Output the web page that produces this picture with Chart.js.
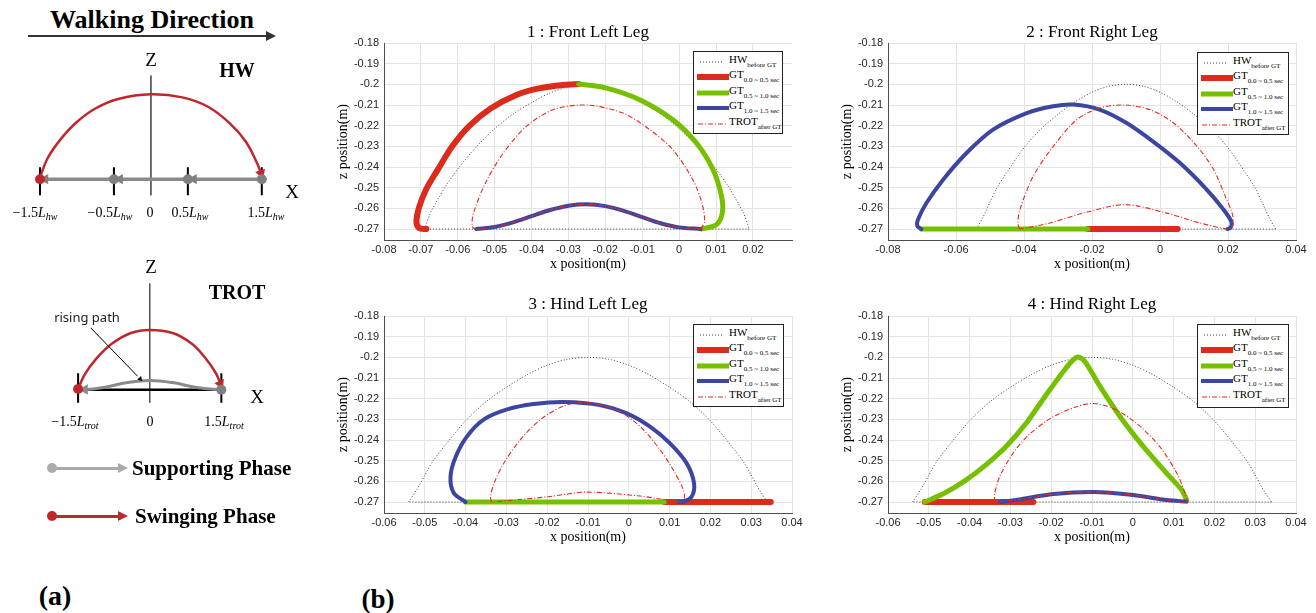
<!DOCTYPE html>
<html>
<head>
<meta charset="utf-8">
<script src="https://cdn.jsdelivr.net/npm/chart.js@4.4.1/dist/chart.umd.min.js"></script>
<style>
  body { margin: 0; width: 1316px; height: 613px; background: #fff; position: relative; overflow: hidden; font-family: 'Liberation Serif', serif; }
  canvas { position: absolute; }
  .t { position: absolute; white-space: nowrap; color: #000; transform: translate(-50%, -50%); }
  .tl { position: absolute; white-space: nowrap; color: #000; transform: translateY(-50%); }
  .b { font-weight: bold; }
  .math { font-size: 14px; }
  .math sub { font-size: 10px; font-style: italic; vertical-align: -3px; line-height: 0; }
  .ptitle { position: absolute; width: 408px; text-align: center; font-size: 17px; line-height: 20px; }
  .legend { position: absolute; border: 1px solid #222; background: #fff; }
  .legend .row { position: absolute; left: 0; width: 100%; height: 0; }
  .legend svg { position: absolute; left: 3px; top: -4px; }
  .legend .txt { position: absolute; left: 35px; top: -10px; font-size: 11px; line-height: 14px; white-space: nowrap; color: #000; }
  .legend sub { font-size: 7px; vertical-align: -4px; line-height: 0; color: #000; }
  .css-line { position: absolute; }
  .tri { position: absolute; width: 0; height: 0; border-top: 5px solid transparent; border-bottom: 5px solid transparent; }
  .dot { position: absolute; width: 10px; height: 10px; border-radius: 50%; }
</style>
</head>
<body>

<!-- (a) diagrams -->
<div class="t b" style="left:152px;top:20px;font-size:26px">Walking Direction</div>
<div class="css-line" style="left:28px;top:35px;width:240px;height:2px;background:#333"></div>
<div class="tri" style="left:266px;top:31px;border-left:10px solid #333"></div>

<canvas id="hwDiagram" width="310" height="180" style="left:0;top:40px"></canvas>
<div class="t" style="left:151px;top:60px;font-size:19px">Z</div>
<div class="t b" style="left:237px;top:70px;font-size:20px">HW</div>
<div class="t" style="left:292px;top:192px;font-size:19px">X</div>
<div class="t math" style="left:35px;top:213px">−1.5<i>L</i><sub>hw</sub></div>
<div class="t math" style="left:110px;top:213px">−0.5<i>L</i><sub>hw</sub></div>
<div class="t math" style="left:150px;top:213px">0</div>
<div class="t math" style="left:190px;top:213px">0.5<i>L</i><sub>hw</sub></div>
<div class="t math" style="left:266px;top:213px">1.5<i>L</i><sub>hw</sub></div>

<canvas id="trotDiagram" width="310" height="170" style="left:0;top:265px"></canvas>
<div class="t" style="left:151px;top:267px;font-size:19px">Z</div>
<div class="t b" style="left:237px;top:292px;font-size:20px">TROT</div>
<div class="t" style="left:257px;top:397px;font-size:19px">X</div>
<div class="t" style="left:87px;top:317px;font-size:13px;font-family:'Noto Sans',sans-serif;color:#222">rising path</div>
<div class="t math" style="left:75px;top:422px">−1.5<i>L</i><sub>trot</sub></div>
<div class="t math" style="left:150px;top:422px">0</div>
<div class="t math" style="left:224px;top:422px">1.5<i>L</i><sub>trot</sub></div>

<div class="dot" style="left:47px;top:463px;background:#aaa"></div>
<div class="css-line" style="left:52px;top:466.5px;width:68px;height:3px;background:#aaa"></div>
<div class="tri" style="left:118px;top:463px;border-left:10px solid #aaa"></div>
<div class="tl b" style="left:132px;top:468px;font-size:21px">Supporting Phase</div>

<div class="dot" style="left:47px;top:511px;background:#c0272d"></div>
<div class="css-line" style="left:52px;top:514.5px;width:68px;height:3px;background:#c0272d"></div>
<div class="tri" style="left:118px;top:511px;border-left:10px solid #c0272d"></div>
<div class="tl b" style="left:135px;top:516px;font-size:21px">Swinging Phase</div>

<div class="t b" style="left:55px;top:596px;font-size:28px">(a)</div>
<div class="t b" style="left:378px;top:599px;font-size:27px">(b)</div>

<!-- (b) leg trajectories -->
<canvas id="leg1" width="470" height="258" style="left:330px;top:20px"></canvas>
<canvas id="leg2" width="510" height="258" style="left:800px;top:20px"></canvas>
<canvas id="leg3" width="480" height="261" style="left:330px;top:290px"></canvas>
<canvas id="leg4" width="510" height="261" style="left:800px;top:290px"></canvas>

<div class="ptitle" style="left:384px;top:22px">1 : Front Left Leg</div>
<div class="ptitle" style="left:888px;top:22px">2 : Front Right Leg</div>
<div class="ptitle" style="left:384px;top:294px">3 : Hind Left Leg</div>
<div class="ptitle" style="left:888px;top:294px">4 : Hind Right Leg</div>

<div id="lg1" class="legend" style="left:693px;top:51px;width:88px;height:81px"></div>
<div id="lg2" class="legend" style="left:1197px;top:52px;width:90px;height:81px"></div>
<div id="lg3" class="legend" style="left:693px;top:324px;width:89px;height:81px"></div>
<div id="lg4" class="legend" style="left:1197px;top:324px;width:90px;height:82px"></div>

<script>
// ---------- (a) schematic, x in step lengths, z in step heights ----------
const hwSwing = [[-1.5, 0.02], [-1.396, 0.249], [-1.222, 0.469], [-1.006, 0.67], [-0.746, 0.835], [-0.442, 0.945],
  [0, 1], [0.425, 0.963], [0.772, 0.853], [1.075, 0.652], [1.292, 0.432], [1.443, 0.176], [1.475, 0.1]];
const hwSupport = [[1.5, 0], [-1.5, 0]];
const hwFootholds = [-0.5, 0.5, 1.5];
const hwSupportArrows = [-1.43, -0.42, 0.58];
const hwTicks = [-1.5, -0.5, 0.5, 1.5];

const trotSwing = [[-1.5, 0.01], [-1.366, 0.249], [-1.131, 0.508], [-0.795, 0.767], [-0.393, 0.948], [0, 1],
  [0.48, 0.948], [0.883, 0.767], [1.185, 0.508], [1.386, 0.275], [1.455, 0.15]];
const trotRising = [[1.5, 0], [1.017, 0.031], [0.48, 0.119], [0, 0.155], [-0.46, 0.119], [-0.996, 0.031], [-1.3, 0.005]];
const trotGround = [[-1.5, 0], [1.5, 0]];
const trotTicks = [-1.5, 1.5];
const risingPointer = [[-1.23, 1.03], [-0.26, 0.23]];

// ---------- (b) foot trajectories, x / z position in metres ----------
const hwFrontLeft = [[-0.069, -0.27], [-0.0675, -0.2625], [-0.066, -0.2575], [-0.063, -0.2485], [-0.0595, -0.2398],
  [-0.055, -0.2303], [-0.05, -0.2215], [-0.045, -0.2143], [-0.04, -0.2088], [-0.035, -0.2042], [-0.03, -0.2012],
  [-0.025, -0.2], [-0.02, -0.2012], [-0.015, -0.2042], [-0.01, -0.2088], [-0.005, -0.2143], [0, -0.2215],
  [0.005, -0.2303], [0.0095, -0.2398], [0.013, -0.2485], [0.016, -0.2575], [0.0175, -0.2625], [0.019, -0.27]];
const hwFrontLeftBase = [[0.019, -0.27], [-0.069, -0.27]];
const hwOthers = [[-0.054, -0.27], [-0.052, -0.2641], [-0.0502, -0.2577], [-0.048, -0.2502], [-0.045, -0.2425],
  [-0.04, -0.2307], [-0.035, -0.2215], [-0.03, -0.2145], [-0.025, -0.2085], [-0.02, -0.2038], [-0.015, -0.2009],
  [-0.01, -0.2], [-0.005, -0.2009], [0, -0.2038], [0.005, -0.2085], [0.01, -0.2145], [0.015, -0.2215],
  [0.02, -0.2307], [0.025, -0.2425], [0.028, -0.2502], [0.0302, -0.2577], [0.032, -0.2641], [0.034, -0.27]];
const hwOthersBase = [[0.034, -0.27], [-0.054, -0.27]];

const flRed = [[-0.0685, -0.27], [-0.0705, -0.2695], [-0.0712, -0.2665], [-0.0705, -0.2595], [-0.0685, -0.2505],
  [-0.0655, -0.2415], [-0.0615, -0.23], [-0.057, -0.2203], [-0.0512, -0.2118], [-0.044, -0.205], [-0.0377, -0.2018],
  [-0.031, -0.2002], [-0.0272, -0.1998]];
const flGreen = [[-0.0272, -0.1998], [-0.0197, -0.2018], [-0.0107, -0.2074], [-0.0017, -0.2171], [0.0047, -0.2284],
  [0.0092, -0.2413], [0.0115, -0.2542], [0.0117, -0.2623], [0.0101, -0.2679], [0.006, -0.27]];
const flBlue = [[0.0058, -0.27], [0, -0.2692], [-0.005, -0.2672], [-0.01, -0.2642], [-0.015, -0.2612], [-0.02, -0.2589],
  [-0.025, -0.258], [-0.03, -0.2587], [-0.035, -0.2608], [-0.04, -0.2638], [-0.045, -0.2668], [-0.05, -0.269], [-0.055, -0.27]];
const flTrot = [[0.0058, -0.27], [0.0069, -0.2665], [0.0062, -0.2575], [0.0037, -0.2461], [-0.0017, -0.2316],
  [-0.008, -0.2219], [-0.0152, -0.2139], [-0.0252, -0.21], [-0.0342, -0.2123], [-0.0414, -0.2203], [-0.0476, -0.2331],
  [-0.0525, -0.2477], [-0.0557, -0.2621], [-0.0561, -0.2686], [-0.055, -0.27], [-0.05, -0.269], [-0.045, -0.2668],
  [-0.04, -0.2638], [-0.035, -0.2608], [-0.03, -0.2587], [-0.025, -0.258], [-0.02, -0.2589], [-0.015, -0.2612],
  [-0.01, -0.2642], [-0.005, -0.2672], [0, -0.2692], [0.0058, -0.27]];

const frRed = [[0.0052, -0.27], [-0.0212, -0.27]];
const frGreen = [[-0.0212, -0.27], [-0.0702, -0.27]];
const frBlue = [[-0.0702, -0.27], [-0.0714, -0.2685], [-0.0712, -0.2655], [-0.0687, -0.2574], [-0.0638, -0.2461],
  [-0.0569, -0.2332], [-0.0491, -0.2219], [-0.0392, -0.2139], [-0.0314, -0.2106], [-0.0255, -0.2098], [-0.0176, -0.2123],
  [-0.0098, -0.2187], [-0.002, -0.2277], [0.0059, -0.2381], [0.0138, -0.251], [0.0187, -0.2606], [0.021, -0.2665],
  [0.0207, -0.2695], [0.0198, -0.27]];
const frTrot = [[-0.0412, -0.27], [-0.0418, -0.2675], [-0.0412, -0.2606], [-0.0373, -0.2445], [-0.0314, -0.23],
  [-0.0245, -0.2171], [-0.0176, -0.2114], [-0.0103, -0.21], [-0.0029, -0.2123], [0.004, -0.2187], [0.0109, -0.23],
  [0.0158, -0.2413], [0.0192, -0.2542], [0.0212, -0.2623], [0.0215, -0.2675], [0.0205, -0.27], [0.0118, -0.2671],
  [0.002, -0.2623], [-0.0103, -0.2582], [-0.0226, -0.2623], [-0.0324, -0.2671], [-0.0412, -0.27]];

const hlRed = [[0.0348, -0.27], [0.0087, -0.27]];
const hlGreen = [[0.0087, -0.27], [-0.04, -0.27]];
const hlBlue = [[-0.04, -0.27], [-0.0429, -0.2656], [-0.0437, -0.2577], [-0.0424, -0.248], [-0.0396, -0.2381],
  [-0.0355, -0.23], [-0.0298, -0.2252], [-0.0233, -0.2226], [-0.0159, -0.2216], [-0.0071, -0.2231], [-0.0005, -0.2271],
  [0.0052, -0.2335], [0.0101, -0.2416], [0.0142, -0.2513], [0.016, -0.261], [0.0154, -0.2674], [0.0134, -0.2698], [0.0122, -0.27]];
const hlTrot = [[-0.0337, -0.27], [-0.0339, -0.2673], [-0.033, -0.2608], [-0.0306, -0.2511], [-0.0265, -0.2397],
  [-0.0216, -0.23], [-0.0159, -0.2235], [-0.0105, -0.2218], [-0.003, -0.2255], [0.0028, -0.2335], [0.0077, -0.2448],
  [0.0109, -0.2545], [0.0134, -0.2642], [0.0136, -0.2685], [0.013, -0.27], [0.0028, -0.2671], [-0.0105, -0.2652],
  [-0.0192, -0.2673], [-0.0273, -0.2689], [-0.0337, -0.27]];

const hrRed = [[-0.0244, -0.27], [-0.051, -0.27]];
const hrGreen = [[-0.051, -0.27], [-0.046, -0.2655], [-0.041, -0.2595], [-0.036, -0.252], [-0.031, -0.243],
  [-0.026, -0.2315], [-0.021, -0.2175], [-0.0165, -0.2055], [-0.0145, -0.201], [-0.0134, -0.1998], [-0.0117, -0.2021],
  [-0.008, -0.2142], [-0.0031, -0.2287], [0.0026, -0.2432], [0.0083, -0.2561], [0.012, -0.2642], [0.0132, -0.269]];
const hrBlue = [[0.0132, -0.2698], [0.0083, -0.269], [0.0001, -0.2666], [-0.0097, -0.2651], [-0.0195, -0.2661],
  [-0.0277, -0.2687], [-0.0326, -0.27]];
const hrTrot = [[-0.0339, -0.27], [-0.0338, -0.2655], [-0.0326, -0.2576], [-0.0294, -0.2465], [-0.0255, -0.2375],
  [-0.0195, -0.2287], [-0.0138, -0.2239], [-0.0097, -0.2223], [-0.0048, -0.2247], [0.0009, -0.2319], [0.0066, -0.2432],
  [0.0108, -0.2561], [0.0128, -0.2658], [0.0132, -0.27], [0.0083, -0.269], [0.0001, -0.2666], [-0.0097, -0.2651],
  [-0.0195, -0.2661], [-0.0277, -0.2687], [-0.0339, -0.27]];

const zTicks = [-0.27, -0.26, -0.25, -0.24, -0.23, -0.22, -0.21, -0.2, -0.19, -0.18];
const xTicksFL = [-0.08, -0.07, -0.06, -0.05, -0.04, -0.03, -0.02, -0.01, 0, 0.01, 0.02];
const xTicksFR = [-0.08, -0.06, -0.04, -0.02, 0, 0.02, 0.04];
const xTicksHind = [-0.06, -0.05, -0.04, -0.03, -0.02, -0.01, 0, 0.01, 0.02, 0.03, 0.04];

const legendNames = ['HW', 'GT', 'GT', 'GT', 'TROT'];
const legendSubs = ['before GT', '0.0 ~ 0.5 sec', '0.5 ~ 1.0 sec', '1.0 ~ 1.5 sec', 'after GT'];

const RED = '#dc2a1c', GREEN = '#76c000', BLUE = '#3c46a0', TROT_RED = '#e8291d';

const pts = arr => arr.map(p => ({ x: p[0], y: p[1] }));

// ---------- schematic charts ----------
function diagram(id, xMin, xMax, yMin, yMax, datasets) {
  new Chart(document.getElementById(id), {
    type: 'scatter',
    data: { datasets },
    options: {
      responsive: false,
      animation: false,
      layout: { padding: 0 },
      scales: {
        x: { display: false, min: xMin, max: xMax },
        y: { display: false, min: yMin, max: yMax }
      },
      plugins: { legend: { display: false }, tooltip: { enabled: false } }
    }
  });
}

function segs(xs, z0, z1) {
  const out = [];
  xs.forEach(x => { out.push({ x, y: z0 }, { x, y: z1 }, { x, y: null }); });
  return out;
}

function lineDs(data, color, width, extra) {
  return Object.assign({ data, showLine: true, borderColor: color, borderWidth: width, pointRadius: 0,
    tension: 0.4, spanGaps: false, borderCapStyle: 'round' }, extra || {});
}

function markDs(data, color, style, radius, rotation) {
  return { data, showLine: false, pointStyle: style, pointRadius: radius, pointRotation: rotation || 0,
    pointBackgroundColor: color, pointBorderColor: color, pointBorderWidth: 0 };
}

diagram('hwDiagram', -1.96, 2.071, -0.41, 1.568, [
  markDs([{ x: -1.5, y: 0 }], '#c0272d', 'circle', 5),
  markDs(hwFootholds.map(x => ({ x, y: 0 })), '#7f7f7f', 'circle', 5),
  markDs(hwSupportArrows.map(x => ({ x, y: 0 })), '#7f7f7f', 'triangle', 6, 270),
  markDs([{ x: 1.49, y: 0.07 }], '#c0272d', 'triangle', 6, 161),
  lineDs(pts(hwSwing), '#c0272d', 2.5),
  lineDs(pts(hwSupport), '#8a8a8a', 3.5, { tension: 0 }),
  lineDs(segs(hwTicks, 0.14, -0.19), '#000', 2, { tension: 0, borderCapStyle: 'butt' }),
  lineDs(segs([0], 1.22, -0.19), '#555', 1, { tension: 0, borderCapStyle: 'butt' })
]);

diagram('trotDiagram', -3.01, 3.231, -0.658, 1.986, [
  markDs([{ x: -1.5, y: 0.01 }], '#c0272d', 'circle', 5),
  markDs([{ x: 1.5, y: 0 }], '#7f7f7f', 'circle', 5),
  markDs([{ x: -1.36, y: 0.003 }], '#8a8a8a', 'triangle', 6, 270),
  markDs([{ x: 1.48, y: 0.1 }], '#c0272d', 'triangle', 6, 155),
  markDs([{ x: -0.2, y: 0.18 }], '#000', 'triangle', 3, 137),
  lineDs(pts(risingPointer), '#000', 1, { tension: 0 }),
  lineDs(pts(trotSwing), '#c0272d', 2.5),
  lineDs(pts(trotRising), '#8a8a8a', 3),
  lineDs(pts(trotGround), '#000', 2.5, { tension: 0, borderCapStyle: 'butt' }),
  lineDs(segs(trotTicks, 0.275, -0.218), '#000', 2, { tension: 0, borderCapStyle: 'butt' }),
  lineDs(segs([0], 1.777, -0.218), '#555', 1, { tension: 0, borderCapStyle: 'butt' })
]);

// ---------- leg trajectory charts ----------
function legChart(id, xMin, xMax, xTicks, padL, padR, padTop, s) {
  const thick = (data, color, w) => ({ data: pts(data), showLine: true, borderColor: color, backgroundColor: color,
    borderWidth: w, pointRadius: 0, tension: 0.3, borderCapStyle: 'round', borderJoinStyle: 'round' });
  const dotted = data => ({ data: pts(data), showLine: true, borderColor: '#404040', borderWidth: 1,
    borderDash: [1, 2], pointRadius: 0, tension: 0.3 });
  new Chart(document.getElementById(id), {
    type: 'scatter',
    data: {
      datasets: [
        { data: pts(s.trot), showLine: true, borderColor: TROT_RED, borderWidth: 1.1, borderDash: [5, 2, 1, 2],
          pointRadius: 0, tension: 0.3 },
        thick(s.blue, BLUE, 4),
        thick(s.green, GREEN, 5),
        thick(s.red, RED, 6),
        dotted(s.hw),
        dotted(s.hwBase)
      ]
    },
    options: {
      responsive: false,
      animation: false,
      layout: { padding: { left: padL, right: padR, top: padTop, bottom: 0 } },
      scales: {
        x: {
          type: 'linear', min: xMin, max: xMax,
          afterBuildTicks: sc => { sc.ticks = xTicks.map(v => ({ value: v })); },
          afterFit: sc => { sc.height = 38; },
          grid: { color: '#e4e4e4', drawTicks: false },
          border: { color: '#4d4d4d' },
          ticks: { font: { family: 'Liberation Sans', size: 11 }, color: '#262626', padding: 3, maxRotation: 0,
            autoSkip: false, format: { minimumFractionDigits: 0, maximumFractionDigits: 3 } },
          title: { display: true, text: 'x position(m)', font: { family: 'Liberation Serif', size: 14 }, color: '#000',
            padding: { top: 0, bottom: 5 } }
        },
        y: {
          type: 'linear', min: -0.2753, max: -0.18,
          afterBuildTicks: sc => { sc.ticks = zTicks.map(v => ({ value: v })); },
          afterFit: sc => { sc.width = 54; },
          grid: { color: '#e4e4e4', drawTicks: false },
          border: { color: '#4d4d4d' },
          ticks: { font: { family: 'Liberation Sans', size: 11 }, color: '#262626', padding: 5,
            format: { minimumFractionDigits: 0, maximumFractionDigits: 3 } },
          title: { display: true, text: 'z position(m)', font: { family: 'Liberation Serif', size: 14 }, color: '#000',
            padding: { top: 5, bottom: 0 } }
        }
      },
      plugins: { legend: { display: false }, tooltip: { enabled: false } }
    }
  });
}

legChart('leg1', -0.08, 0.0306, xTicksFL, 0, 8, 23,
  { trot: flTrot, blue: flBlue, green: flGreen, red: flRed, hw: hwFrontLeft, hwBase: hwFrontLeftBase });
legChart('leg2', -0.08, 0.04, xTicksFR, 34, 14, 23,
  { trot: frTrot, blue: frBlue, green: frGreen, red: frRed, hw: hwOthers, hwBase: hwOthersBase });
legChart('leg3', -0.06, 0.04, xTicksHind, 0, 18, 26,
  { trot: hlTrot, blue: hlBlue, green: hlGreen, red: hlRed, hw: hwOthers, hwBase: hwOthersBase });
legChart('leg4', -0.06, 0.04, xTicksHind, 34, 14, 26,
  { trot: hrTrot, blue: hrBlue, green: hrGreen, red: hrRed, hw: hwOthers, hwBase: hwOthersBase });

// ---------- legends with subscripts ----------
function buildLegend(id) {
  const rowY = [9.5, 25, 40.5, 56, 72];
  const line = (x1, x2, color, w, dash) => '<svg width="34" height="8"><line x1="' + x1 + '" y1="4" x2="' + x2 +
    '" y2="4" stroke="' + color + '" stroke-width="' + w + '"' + (dash ? ' stroke-dasharray="' + dash + '"' : '') + '/></svg>';
  const samples = [
    line(3, 27, '#404040', 1, '1 2'),
    line(0, 32, RED, 6),
    line(0, 32, GREEN, 5),
    line(0, 32, BLUE, 4),
    line(1, 31, TROT_RED, 1.1, '5 2 1 2')
  ];
  const el = document.getElementById(id);
  el.innerHTML = legendNames.map((n, i) =>
    '<div class="row" style="top:' + rowY[i] + 'px">' + samples[i] +
    '<span class="txt">' + n + '<sub>' + legendSubs[i] + '</sub></span></div>').join('');
}
['lg1', 'lg2', 'lg3', 'lg4'].forEach(buildLegend);
</script>
</body>
</html>
